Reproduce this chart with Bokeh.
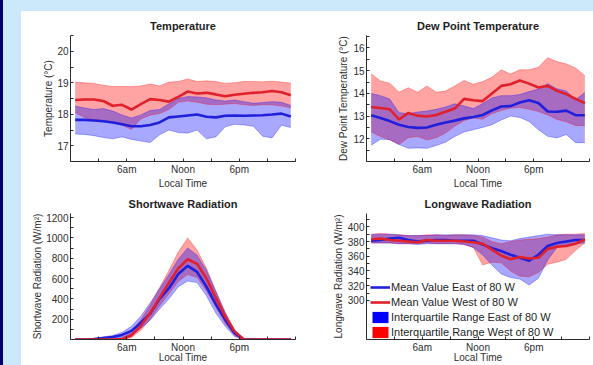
from bokeh.plotting import figure
from bokeh.models import FixedTicker, Legend, LegendItem, Div, ColumnDataSource
from bokeh.layouts import row, column
from bokeh.embed import file_html
from bokeh.resources import INLINE

# ---------------- data ----------------
HOURS = [0.5, 1.5, 2.5, 3.5, 4.5, 5.5, 6.5, 7.5, 8.5, 9.5, 10.5, 11.5,
         12.5, 13.5, 14.5, 15.5, 16.5, 17.5, 18.5, 19.5, 20.5, 21.5, 22.5, 23.5]
X_TICKS = [6, 12, 18]
X_MINOR = [0, 3, 9, 15, 21, 24]
X_LABELS = ["6am", "Noon", "6pm"]

TEMP_EAST_MEAN = [17.82, 17.82, 17.80, 17.78, 17.74, 17.68, 17.62, 17.62, 17.66, 17.74, 17.90, 17.93,
                  17.96, 17.99, 17.92, 17.90, 17.95, 17.96, 17.95, 17.96, 17.97, 17.99, 18.02, 17.93]
TEMP_EAST_Q1 = [17.37, 17.36, 17.32, 17.26, 17.22, 17.28, 17.20, 17.15, 17.10, 17.35, 17.50, 17.42,
                17.40, 17.50, 17.22, 17.28, 17.60, 17.68, 17.66, 17.62, 17.30, 17.25, 17.65, 17.58]
TEMP_EAST_Q3 = [18.26, 18.20, 18.15, 18.18, 18.10, 17.98, 17.88, 17.98, 18.12, 18.15, 18.33, 18.50,
                18.56, 18.55, 18.52, 18.45, 18.42, 18.45, 18.40, 18.35, 18.37, 18.40, 18.38, 18.28]
TEMP_WEST_MEAN = [18.45, 18.47, 18.47, 18.42, 18.27, 18.30, 18.15, 18.32, 18.48, 18.45, 18.40, 18.55,
                  18.72, 18.66, 18.68, 18.63, 18.57, 18.62, 18.65, 18.68, 18.70, 18.74, 18.70, 18.60]
TEMP_WEST_Q1 = [18.05, 17.90, 17.82, 17.80, 17.75, 17.65, 17.52, 17.85, 17.97, 18.02, 18.15, 18.38,
                18.42, 18.38, 18.32, 18.30, 18.32, 18.34, 18.30, 18.28, 18.30, 18.30, 18.26, 18.20]
TEMP_WEST_Q3 = [19.02, 19.00, 18.98, 18.92, 18.88, 18.88, 18.88, 18.90, 18.96, 18.90, 19.02, 19.04,
                19.12, 19.04, 19.06, 19.04, 18.98, 19.00, 19.04, 19.04, 19.03, 19.05, 19.02, 18.99]

DEW_EAST_MEAN = [13.04, 12.92, 12.78, 12.62, 12.52, 12.48, 12.50, 12.62, 12.72, 12.80, 12.90, 12.96,
                 13.05, 13.25, 13.42, 13.44, 13.60, 13.70, 13.58, 13.20, 13.19, 13.24, 13.04, 13.04]
DEW_EAST_Q1 = [11.72, 11.98, 11.97, 11.75, 11.58, 11.60, 11.58, 11.70, 11.85, 12.10, 12.30, 12.40,
               12.50, 12.62, 12.83, 13.00, 12.94, 12.76, 12.40, 12.11, 12.04, 12.19, 11.83, 11.83]
DEW_EAST_Q3 = [14.00, 13.90, 13.75, 13.15, 13.10, 13.18, 13.22, 13.30, 13.40, 13.54, 13.45, 13.33,
               13.55, 13.80, 13.90, 13.90, 13.95, 14.08, 14.19, 14.43, 14.20, 14.11, 13.72, 14.04]
DEW_WEST_MEAN = [13.40, 13.36, 13.30, 12.85, 13.14, 13.02, 12.98, 13.05, 13.19, 13.33, 13.76, 13.70,
                 13.66, 14.00, 14.33, 14.40, 14.57, 14.43, 14.26, 14.33, 14.11, 13.97, 13.76, 13.57]
DEW_WEST_Q1 = [12.30, 12.10, 11.95, 11.75, 12.05, 12.10, 11.95, 12.05, 12.25, 12.55, 12.80, 12.92,
               12.86, 13.10, 13.25, 13.35, 13.38, 13.30, 13.20, 13.05, 12.85, 12.75, 12.58, 12.58]
DEW_WEST_Q3 = [14.86, 14.55, 14.45, 14.05, 14.25, 14.05, 14.33, 14.05, 14.10, 14.33, 14.57, 14.40,
               14.52, 14.71, 15.04, 14.85, 15.04, 15.04, 15.15, 15.57, 15.40, 15.30, 15.12, 14.78]

SW_EAST_MEAN = [0, 0, 5, 15, 25, 45, 85, 165, 255, 400, 505, 645,
                725, 665, 520, 345, 195, 65, 0, 0, 0, 0, 0, 0]
SW_EAST_Q1 = [0, 0, 0, 5, 10, 20, 50, 110, 190, 300, 400, 520,
              575, 560, 430, 260, 130, 30, 0, 0, 0, 0, 0, 0]
SW_EAST_Q3 = [0, 0, 10, 25, 40, 70, 130, 230, 360, 500, 640, 790,
              900, 830, 680, 470, 260, 90, 0, 0, 0, 0, 0, 0]
SW_WEST_MEAN = [0, 0, 0, 0, 0, 5, 40, 135, 260, 410, 560, 700,
                790, 745, 600, 410, 225, 80, 0, 0, 0, 0, 0, 0]
SW_WEST_Q1 = [0, 0, 0, 0, 0, 0, 20, 90, 200, 330, 450, 570,
              640, 610, 480, 320, 160, 40, 0, 0, 0, 0, 0, 0]
SW_WEST_Q3 = [0, 0, 0, 0, 0, 15, 75, 195, 340, 510, 680, 860,
              1000, 880, 700, 480, 270, 95, 5, 0, 0, 0, 0, 0]

LW_EAST_MEAN = [381, 382, 384, 385, 382, 380, 381, 382, 382, 381, 381, 381,
                376, 371, 367, 362, 358, 354, 362, 374, 378, 380, 382, 382]
LW_EAST_Q1 = [378, 378, 378, 377, 377, 376, 377, 377, 377, 377, 376, 372,
              362, 348, 336, 331, 329, 321, 330, 355, 372, 376, 377, 378]
LW_EAST_Q3 = [389, 390, 390, 389, 388, 388, 388, 389, 389, 389, 389, 389,
              388, 385, 382, 381, 384, 386, 388, 390, 389, 389, 389, 389]
LW_WEST_MEAN = [383, 384, 382, 381, 380, 379, 382, 381, 381, 381, 380, 379,
                377, 369, 361, 356, 359, 357, 358, 370, 373, 374, 377, 383]
LW_WEST_Q1 = [378, 378, 378, 377, 377, 377, 378, 377, 377, 377, 376, 372,
              348, 352, 351, 340, 333, 332, 338, 349, 352, 356, 368, 378]
LW_WEST_Q3 = [390, 391, 390, 389, 388, 388, 389, 389, 388, 389, 389, 388,
              386, 380, 377, 380, 382, 383, 384, 386, 389, 390, 390, 391]

LEGEND_LABELS = ["Mean Value East of 80 W", "Mean Value West of 80 W",
                 "Interquartile Range East of 80 W", "Interquartile Range West of 80 W"]

# ---------------- style ----------------
FONT = "Liberation Sans"
TXT = "#2e2e2e"
AXC = "#2a2a2a"
BLUE_FILL = "#0000ff"
RED_FILL = "#ff0000"
BLUE_LINE = "#1f1fdc"
RED_LINE = "#e0202a"
NAVY = "#00006e"
LIGHT = "#cce8fb"
NAN = float("nan")


def make_panel(title, ylabel, yrange, yticks, yminor,
               em, eq1, eq3, wm, wq1, wq3,
               width, height, mbl, mbr, mbt, mbb, ystand, xstand):
    p = figure(width=width, height=height, x_range=(0, 24), y_range=yrange,
               output_backend="svg", toolbar_location=None,
               min_border_left=mbl, min_border_right=mbr,
               min_border_top=mbt, min_border_bottom=mbb,
               title=title)
    p.outline_line_color = None
    p.background_fill_color = "white"
    p.border_fill_color = "white"
    p.xgrid.visible = False
    p.ygrid.visible = False
    p.title.align = "center"
    p.title.text_font = FONT
    p.title.text_font_size = "11px"
    p.title.text_font_style = "bold"
    p.title.text_color = "#1e1e1e"
    p.title.standoff = 8

    src = ColumnDataSource(dict(h=HOURS, em=em, eq1=eq1, eq3=eq3, wm=wm, wq1=wq1, wq3=wq3))
    p.varea(x="h", y1="wq1", y2="wq3", source=src, fill_color=RED_FILL, fill_alpha=0.36)
    p.varea(x="h", y1="eq1", y2="eq3", source=src, fill_color=BLUE_FILL, fill_alpha=0.34)
    for col, c in (("wq1", RED_FILL), ("wq3", RED_FILL), ("eq1", BLUE_FILL), ("eq3", BLUE_FILL)):
        p.line(x="h", y=col, source=src, line_color=c, line_alpha=0.3, line_width=1)
    r_e = p.line(x="h", y="em", source=src, line_color=BLUE_LINE, line_width=2.6)
    r_w = p.line(x="h", y="wm", source=src, line_color=RED_LINE, line_width=2.6)

    p.xaxis.ticker = FixedTicker(ticks=X_TICKS, minor_ticks=X_MINOR)
    p.xaxis.major_label_overrides = {t: l for t, l in zip(X_TICKS, X_LABELS)}
    p.xaxis.axis_label = "Local Time"
    p.yaxis.ticker = FixedTicker(ticks=yticks, minor_ticks=yminor)
    p.yaxis.axis_label = ylabel
    for ax in (p.xaxis[0], p.yaxis[0]):
        ax.axis_line_color = AXC
        ax.axis_line_width = 1
        ax.major_tick_line_color = AXC
        ax.minor_tick_line_color = AXC
        ax.major_tick_in = 3
        ax.major_tick_out = 0
        ax.minor_tick_in = 3
        ax.minor_tick_out = 0
        ax.major_label_text_font = FONT
        ax.major_label_text_font_size = "10px"
        ax.major_label_text_color = TXT
        ax.major_label_text_line_height = 1.0
        ax.axis_label_text_font = FONT
        ax.axis_label_text_font_size = "10px"
        ax.axis_label_text_font_style = "normal"
        ax.axis_label_text_color = TXT
        ax.axis_label_text_line_height = 1.0
        ax.major_label_standoff = 2
    p.xaxis.axis_label_standoff = xstand
    p.yaxis.axis_label_standoff = ystand
    return p, r_e, r_w


p1, _, _ = make_panel("Temperature", "Temperature (\u00b0C)", (16.5, 20.5),
                      [17, 18, 19, 20], [17.5, 18.5, 19.5, 20.5],
                      TEMP_EAST_MEAN, TEMP_EAST_Q1, TEMP_EAST_Q3,
                      TEMP_WEST_MEAN, TEMP_WEST_Q1, TEMP_WEST_Q3,
                      279, 180, 49, 5, 24, 28, 0, 0)
p2, _, _ = make_panel("Dew Point Temperature", "Dew Point Temperature (\u00b0C)", (11, 16.55),
                      [12, 13, 14, 15, 16], [11.5, 12.5, 13.5, 14.5, 15.5, 16.5],
                      DEW_EAST_MEAN, DEW_EAST_Q1, DEW_EAST_Q3,
                      DEW_WEST_MEAN, DEW_WEST_Q1, DEW_WEST_Q3,
                      293, 180, 66, 4, 24, 28, 1, 0)
p3, _, _ = make_panel("Shortwave Radiation", "Shortwave Radiation (W/m\u00b2)", (0, 1240),
                      [200, 400, 600, 800, 1000, 1200], [100, 300, 500, 700, 900, 1100],
                      SW_EAST_MEAN, SW_EAST_Q1, SW_EAST_Q3,
                      SW_WEST_MEAN, SW_WEST_Q1, SW_WEST_Q3,
                      279, 174, 49, 5, 22, 22, 0, -4)
p4, r_e, r_w = make_panel("Longwave Radiation", "Longwave Radiation (W/m\u00b2)", (247, 418),
                          [300, 320, 340, 360, 380, 400], [310, 330, 350, 370, 390, 410],
                          LW_EAST_MEAN, LW_EAST_Q1, LW_EAST_Q3,
                          LW_WEST_MEAN, LW_WEST_Q1, LW_WEST_Q3,
                          293, 174, 66, 4, 22, 22, 1, -4)

# legend swatches (solid colours, legend only; NaN data draws nothing in the plot)
sw_e = p4.quad(left=[NAN], right=[NAN], bottom=[NAN], top=[NAN],
               fill_color=BLUE_FILL, fill_alpha=1.0, line_color=None)
sw_w = p4.quad(left=[NAN], right=[NAN], bottom=[NAN], top=[NAN],
               fill_color=RED_FILL, fill_alpha=1.0, line_color=None)
legend = Legend(items=[LegendItem(label=LEGEND_LABELS[0], renderers=[r_e]),
                       LegendItem(label=LEGEND_LABELS[1], renderers=[r_w]),
                       LegendItem(label=LEGEND_LABELS[2], renderers=[sw_e]),
                       LegendItem(label=LEGEND_LABELS[3], renderers=[sw_w])],
                location=(4, 0))
legend.background_fill_alpha = 0
legend.border_line_color = None
legend.padding = 0
legend.margin = 0
legend.spacing = 1
legend.glyph_width = 20
legend.glyph_height = 14
legend.label_height = 14
legend.label_standoff = 1
legend.label_text_font = FONT
legend.label_text_font_size = "11px"
legend.label_text_color = "#1e1e1e"
p4.add_layout(legend)

grid = column(row(p1, p2), row(p3, p4))
top_strip = Div(text="", width=572, height=11, margin=0, styles={"background-color": LIGHT})
navy = Div(text="", width=3, height=365, margin=0, styles={"background-color": NAVY})
light = Div(text="", width=18, height=365, margin=0, styles={"background-color": LIGHT})
page = row(navy, light, column(top_strip, grid))

open("out.html", "w").write(file_html(page, INLINE))
